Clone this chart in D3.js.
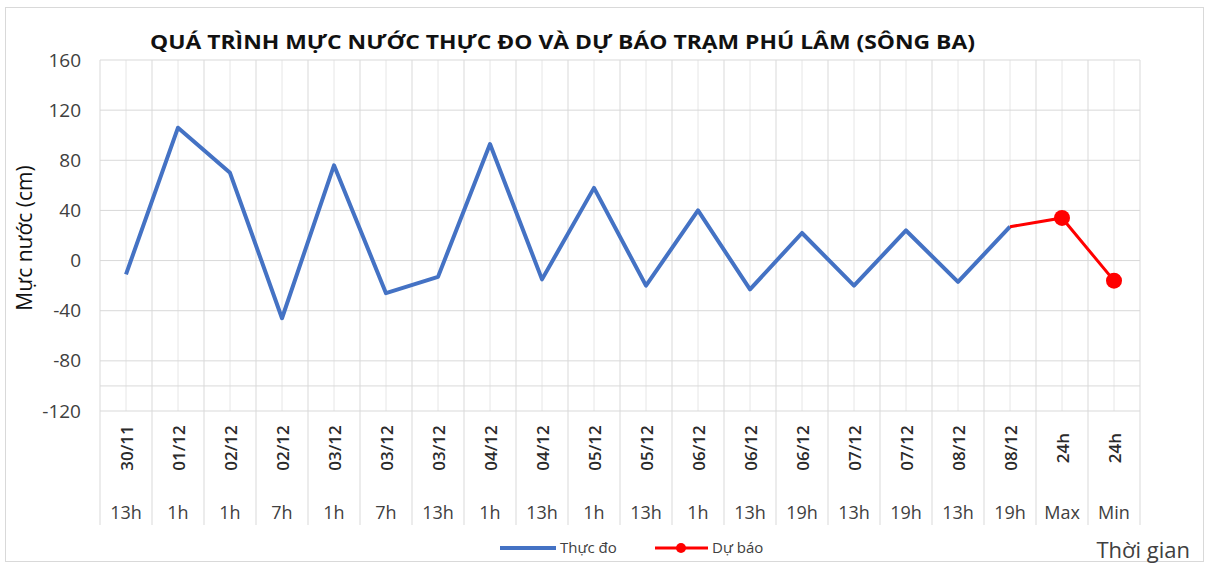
<html>
  <head>
    <meta charset="utf-8" />
    <script src="https://cdn.jsdelivr.net/npm/d3@7"></script>
    <style>
      body { margin: 0; background: #fff; }
      text { font-family: "Open Sans", "DejaVu Sans", sans-serif; fill: #404040; }
    </style>
  </head>
  <body>
    <div id="container"></div>
    <script>
      // du lieu doc tu bieu do
      const dates = ["30/11", "01/12", "02/12", "02/12", "03/12", "03/12", "03/12", "04/12", "04/12", "05/12",
        "05/12", "06/12", "06/12", "06/12", "07/12", "07/12", "08/12", "08/12", "24h", "24h"];
      const hours = ["13h", "1h", "1h", "7h", "1h", "7h", "13h", "1h", "13h", "1h",
        "13h", "1h", "13h", "19h", "13h", "19h", "13h", "19h", "Max", "Min"];
      const thucDo = [-11, 106, 70, -46, 76, -26, -13, 93, -15, 58,
        -20, 40, -23, 22, -20, 24, -17, 27, null, null];
      const duBao = [null, null, null, null, null, null, null, null, null, null,
        null, null, null, null, null, null, null, 27, 34, -16];
      const yTicks = [-120, -80, -40, 0, 40, 80, 120, 160];

      const W = 1212, H = 565;
      const pL = 100, pR = 1140, pT = 60, pB = 411;

      const svg = d3.select("#container").append("svg")
        .attr("width", W).attr("height", H);

      // khung ngoai
      svg.append("rect").attr("x", 5.5).attr("y", 7.5).attr("width", 1198).attr("height", 554)
        .attr("fill", "#fff").attr("stroke", "#d9d9d9");

      const idx = d3.range(dates.length);
      const x = d3.scaleBand().domain(idx).range([pL, pR]);
      const bw = x.bandwidth();
      const cx = i => x(i) + bw / 2;
      const y = d3.scaleLinear().domain([-120, 160]).range([pB, pT]);

      // luoi doc: bien va tam cua moi nhom
      const grid = svg.append("g");
      idx.forEach(i => {
        grid.append("line").attr("x1", cx(i)).attr("x2", cx(i)).attr("y1", pT).attr("y2", pB)
          .attr("stroke", "#e6e6e6");
      });
      idx.concat([idx.length]).forEach(i => {
        const xx = i < idx.length ? x(i) : pR;
        grid.append("line").attr("x1", xx).attr("x2", xx).attr("y1", pT).attr("y2", 525)
          .attr("stroke", "#d9d9d9");
      });
      // luoi ngang
      yTicks.concat([-100]).forEach(v => {
        grid.append("line").attr("x1", pL).attr("x2", pR).attr("y1", y(v)).attr("y2", y(v))
          .attr("stroke", "#d9d9d9");
      });

      // truc y
      const yAxis = svg.append("g").attr("transform", `translate(${pL},0)`)
        .call(d3.axisLeft(y).tickValues(yTicks).tickSize(0).tickPadding(19).tickFormat(d => String(d)));
      yAxis.select(".domain").remove();
      yAxis.selectAll("text").style("font-size", "19px").style("fill", "#404040")
        .style("font-family", "'Open Sans', sans-serif");

      svg.append("text").attr("transform", "translate(32,238) rotate(-90)")
        .attr("text-anchor", "middle").style("font-size", "21px")
        .style("fill", "#111").text("Mực nước (cm)");

      // nhan truc x
      const lab = svg.append("g");
      idx.forEach(i => {
        lab.append("text").attr("transform", `translate(${cx(i) + 7},448) rotate(-90)`)
          .attr("text-anchor", "middle").style("font-size", "17px").style("font-weight", "600")
          .style("fill", "#2a2a2a").text(dates[i]);
        lab.append("text").attr("x", cx(i)).attr("y", 519).attr("text-anchor", "middle")
          .style("font-size", "18px").text(hours[i]);
      });

      // duong
      const line = d3.line().defined(d => d != null).x((d, i) => cx(i)).y(d => y(d));
      svg.append("path").datum(thucDo).attr("d", line).attr("fill", "none")
        .attr("stroke", "#4472C4").attr("stroke-width", 4).attr("stroke-linejoin", "round");
      svg.append("path").datum(duBao).attr("d", line).attr("fill", "none")
        .attr("stroke", "#FF0000").attr("stroke-width", 3);
      svg.selectAll(".mk").data(duBao.map((v, i) => ({ v, i })).filter(d => d.v != null && d.i > 17))
        .enter().append("circle").attr("cx", d => cx(d.i)).attr("cy", d => y(d.v)).attr("r", 8)
        .attr("fill", "#FF0000");

      // tieu de
      svg.append("text").attr("x", 150).attr("y", 49)
        .attr("textLength", 825).attr("lengthAdjust", "spacingAndGlyphs")
        .style("font-size", "20px").style("font-weight", "bold").style("fill", "#111")
        .text("QUÁ TRÌNH MỰC NƯỚC THỰC ĐO VÀ DỰ BÁO TRẠM PHÚ LÂM (SÔNG BA)");

      // chu giai
      const lg = svg.append("g").attr("transform", "translate(0,548)");
      lg.append("line").attr("x1", 500).attr("x2", 556).attr("stroke", "#4472C4").attr("stroke-width", 4);
      lg.append("text").attr("x", 560).attr("y", 5).style("font-size", "15px").text("Thực đo");
      lg.append("line").attr("x1", 655).attr("x2", 708).attr("stroke", "#FF0000").attr("stroke-width", 3);
      lg.append("circle").attr("cx", 681).attr("r", 5).attr("fill", "#FF0000");
      lg.append("text").attr("x", 712).attr("y", 5).style("font-size", "15px").text("Dự báo");

      svg.append("text").attr("x", 1190).attr("y", 558).attr("text-anchor", "end")
        .style("font-size", "22px").text("Thời gian");
    </script>
  </body>
</html>
